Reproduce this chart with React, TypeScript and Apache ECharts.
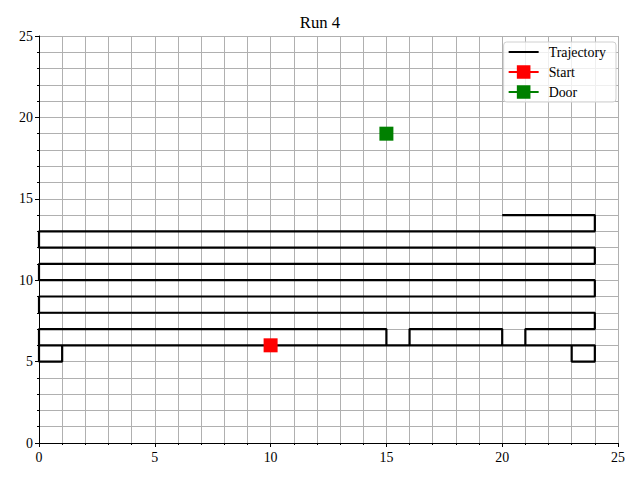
import React, { useEffect, useRef } from "react";
import * as echarts from "echarts";

const trajectory: [number, number][] = [
  [10, 6], [24, 6], [24, 5], [23, 5], [23, 6], [0, 6], [1, 6], [1, 5], [0, 5], [0, 7],
  [15, 7], [15, 6], [16, 6], [16, 7], [20, 7], [20, 6], [21, 6], [21, 7], [24, 7],
  [24, 8], [0, 8], [0, 9], [24, 9], [24, 10], [0, 10], [0, 11], [24, 11], [24, 12],
  [0, 12], [0, 13], [24, 13], [24, 14], [20, 14],
];
const startPoint: [number, number][] = [[10, 6]];
const doorPoint: [number, number][] = [[15, 19]];
const axisTicks = [0, 5, 10, 15, 20, 25];

const FONT = "Liberation Serif";

export default function App() {
  const ref = useRef<HTMLDivElement>(null);
  useEffect(() => {
    if (!ref.current) return;
    const chart = echarts.init(ref.current, undefined, { renderer: "svg" });
    const axisCommon = {
      type: "value" as const,
      min: axisTicks[0],
      max: axisTicks[axisTicks.length - 1],
      interval: 5,
      axisLine: { show: true, onZero: false, lineStyle: { color: "#000", width: 1 } },
      axisTick: { show: true, length: 4, lineStyle: { color: "#000" } },
      minorTick: { show: true, splitNumber: 5, length: 2, lineStyle: { color: "#000" } },
      splitLine: { show: true, lineStyle: { color: "#b0b0b0", width: 1 } },
      minorSplitLine: { show: true, lineStyle: { color: "#b0b0b0", width: 1 } },
      axisLabel: { color: "#000", fontFamily: FONT, fontSize: 13.9 },
    };
    chart.setOption({
      animation: false,
      backgroundColor: "#fff",
      title: {
        text: "Run 4",
        left: "center",
        top: 9,
        textStyle: { fontFamily: FONT, fontSize: 16.7, fontWeight: "normal", color: "#000" },
      },
      legend: {
        orient: "vertical",
        right: 24,
        top: 42,
        itemWidth: 30,
        itemHeight: 17,
        itemGap: 6,
        padding: [3, 10, 3, 4],
        backgroundColor: "rgba(255,255,255,0.8)",
        borderColor: "#d0d0d0",
        borderWidth: 1,
        borderRadius: 3,
        textStyle: { fontFamily: FONT, fontSize: 13.9, color: "#000", padding: [0, 0, 0, 5] },
        data: [
          { name: "Trajectory", itemStyle: { opacity: 0 } },
          "Start",
          "Door",
        ],
      },
      grid: { left: 39, right: 22, top: 36, bottom: 37 },
      xAxis: { ...axisCommon, axisLabel: { ...axisCommon.axisLabel, margin: 7 } },
      yAxis: { ...axisCommon, axisLabel: { ...axisCommon.axisLabel, margin: 6 } },
      series: [
        {
          name: "Trajectory",
          type: "line",
          data: trajectory,
          showSymbol: false,
          symbol: "none",
          lineStyle: { color: "#000", width: 2.2 },
          itemStyle: { color: "#000" },
          z: 3,
        },
        {
          name: "Start",
          type: "line",
          data: startPoint,
          symbol: "rect",
          symbolSize: 14,
          lineStyle: { color: "#ff0000", width: 1.5 },
          itemStyle: { color: "#ff0000" },
          z: 4,
        },
        {
          name: "Door",
          type: "line",
          data: doorPoint,
          symbol: "rect",
          symbolSize: 14,
          lineStyle: { color: "#008000", width: 1.5 },
          itemStyle: { color: "#008000" },
          z: 4,
        },
      ],
    });
    return () => chart.dispose();
  }, []);
  return <div ref={ref} style={{ width: 640, height: 480, position: "absolute", left: 0, top: 0 }} />;
}
